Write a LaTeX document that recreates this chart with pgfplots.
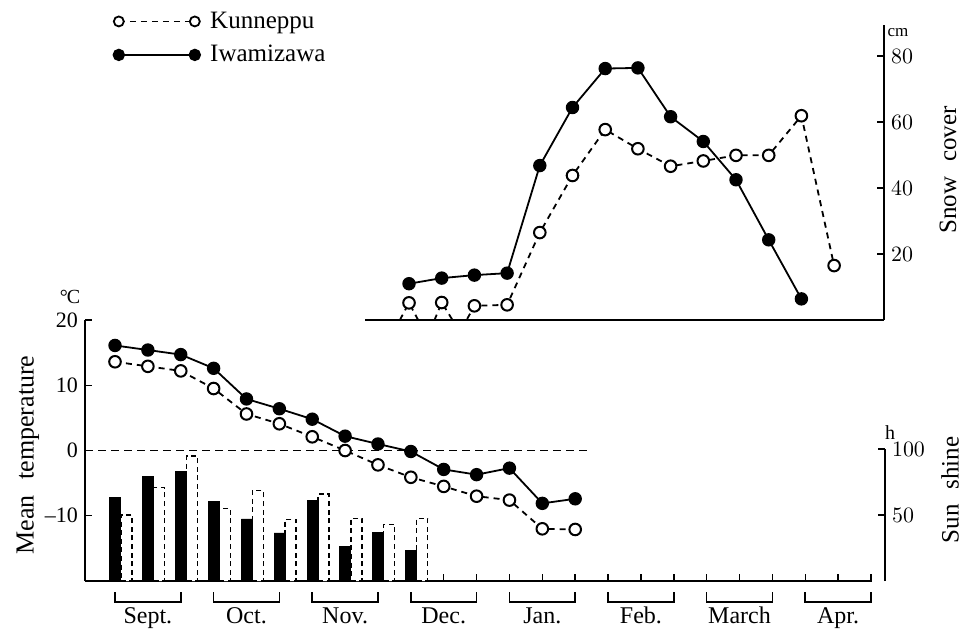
\documentclass[border=0pt]{standalone}
\usepackage{fontspec}
\setmainfont{Liberation Serif}
\usepackage{pgfplots}
\pgfplotsset{compat=1.18}

\begin{document}
\begin{tikzpicture}[font=\fontsize{12}{14}\selectfont]
\useasboundingbox (0,0) rectangle (484pt,-314pt);

% lower panel: mean temperature, x = dekad number (0 = 1st dekad of Sept.)
\begin{axis}[at={(42.5pt,-290.5pt)}, anchor=south west,
    scale only axis, width=393.5pt, height=130.5pt,
    xmin=-0.913, xmax=23.03, ymin=-20, ymax=20,
    axis x line=bottom, axis y line=left,
    axis line style={-, line width=1.1pt},
    xtick={0,...,23}, xticklabels={},
    ytick={-10,0,10,20}, yticklabels={--10,0,10,20},
    tick align=inside, major tick length=3.5pt,
    tick style={black, line width=0.7pt},
    tick label style={font=\fontsize{11}{11}\selectfont},
    clip=false]
    \draw[line width=0.9pt, dash pattern=on 4pt off 2.5pt] (axis cs:-0.913,0) -- (axis cs:14.35,0);
    % Iwamizawa
    \addplot[black, line width=0.9pt, mark=*, mark size=2.9pt] coordinates {
        (0,16.1) (1,15.4) (2,14.7) (3,12.6) (4,7.9) (5,6.4) (6,4.8) (7,2.2)
        (8,1.0) (9,-0.15) (10,-2.9) (11,-3.7) (12,-2.7) (13,-8.1) (14,-7.4)};
    % Kunneppu
    \addplot[black, line width=0.9pt, dash pattern=on 3pt off 2.5pt, mark=*, mark size=2.9pt,
        mark options={solid, fill=white, line width=1pt}] coordinates {
        (0,13.6) (1,12.9) (2,12.2) (3,9.5) (4,5.6) (5,4.1) (6,2.1) (7,0.0)
        (8,-2.2) (9,-4.1) (10,-5.5) (11,-7.0) (12,-7.6) (13,-12.0) (14,-12.1)};
    % month brackets
    \draw[line width=0.8pt] (axis cs:0,-21.7) |- (axis cs:2,-23.2) -- (axis cs:2,-21.7);
    \draw[line width=0.8pt] (axis cs:3,-21.7) |- (axis cs:5,-23.2) -- (axis cs:5,-21.7);
    \draw[line width=0.8pt] (axis cs:6,-21.7) |- (axis cs:8,-23.2) -- (axis cs:8,-21.7);
    \draw[line width=0.8pt] (axis cs:9,-21.7) |- (axis cs:11,-23.2) -- (axis cs:11,-21.7);
    \draw[line width=0.8pt] (axis cs:12,-21.7) |- (axis cs:14,-23.2) -- (axis cs:14,-21.7);
    \draw[line width=0.8pt] (axis cs:15,-21.7) |- (axis cs:17,-23.2) -- (axis cs:17,-21.7);
    \draw[line width=0.8pt] (axis cs:18,-21.7) |- (axis cs:20,-23.2) -- (axis cs:20,-21.7);
    \draw[line width=0.8pt] (axis cs:21,-21.7) |- (axis cs:23,-23.2) -- (axis cs:23,-21.7);
    \node[anchor=base] at (axis cs:1,-26.5) {Sept.};
    \node[anchor=base] at (axis cs:4,-26.5) {Oct.};
    \node[anchor=base] at (axis cs:7,-26.5) {Nov.};
    \node[anchor=base] at (axis cs:10,-26.5) {Dec.};
    \node[anchor=base] at (axis cs:13,-26.5) {Jan.};
    \node[anchor=base] at (axis cs:16,-26.5) {Feb.};
    \node[anchor=base] at (axis cs:19,-26.5) {March};
    \node[anchor=base] at (axis cs:22,-26.5) {Apr.};
\end{axis}

% sunshine hours, same x scale, right axis 0-100 h
\begin{axis}[at={(42.5pt,-290.5pt)}, anchor=south west,
    scale only axis, width=400pt, height=66pt,
    xmin=-0.913, xmax=23.43, ymin=0, ymax=100,
    axis x line=none, axis y line=right,
    axis line style={-, line width=1.1pt},
    ytick={50,100}, tick align=inside, major tick length=3.5pt,
    tick style={black, line width=0.7pt},
    tick label style={font=\fontsize{11}{11}\selectfont},
    clip=false]
    % Kunneppu
    \addplot[ybar, bar width=0.335, bar shift=0.345, draw=black, fill=white,
        line width=0.7pt, dash pattern=on 2.5pt off 1.8pt] coordinates {
        (0,50.0) (1,70.7) (2,94.7) (3,55.0) (4,68.4) (5,46.7) (6,65.9) (7,47.5) (8,43.0) (9,47.5)};
    % Iwamizawa
    \addplot[ybar, bar width=0.335, bar shift=0.01, draw=black, fill=black] coordinates {
        (0,63.4) (1,79.5) (2,83.3) (3,60.4) (4,47.0) (5,36.4) (6,60.7) (7,26.0) (8,36.6) (9,23.0)};
\end{axis}

% upper panel: snow cover
\begin{axis}[at={(182.5pt,-160pt)}, anchor=south west,
    scale only axis, width=259.5pt, height=147.5pt,
    xmin=7.654, xmax=23.526, ymin=0, ymax=89.4,
    axis x line=bottom, axis y line=right,
    axis line style={-, line width=1.1pt},
    xtick=\empty, ytick={20,40,60,80},
    tick align=inside, major tick length=3.5pt,
    tick style={black, line width=0.7pt},
    tick label style={font=\fontsize{11}{11}\selectfont},
    clip=false,
    legend style={at={(axis description cs:-0.4855,1.053)}, anchor=north west,
        draw=none, fill=none, inner sep=0pt, row sep=5pt,
        nodes={inner sep=1pt, font=\fontsize{12.5}{14}\selectfont},
        /tikz/every odd column/.append style={column sep=4pt}},
    legend cell align=left,
    legend image code/.code={\draw[#1] plot coordinates {(0pt,0pt) (38pt,0pt)};}]
    \addlegendimage{black, line width=0.8pt, dash pattern=on 3pt off 2.5pt, mark=*, mark size=2.5pt,
        mark options={solid, fill=white, line width=0.9pt}}
    \addlegendentry{Kunneppu}
    \addlegendimage{black, line width=0.8pt, mark=*, mark size=2.7pt}
    \addlegendentry{Iwamizawa}
    % Iwamizawa
    \addplot[forget plot, black, line width=0.9pt, mark=*, mark size=2.9pt] coordinates {
        (9,11.0) (10,12.7) (11,13.6) (12,14.2) (13,46.8) (14,64.4) (15,76.2)
        (16,76.4) (17,61.6) (18,54.1) (19,42.5) (20,24.3) (21,6.4)};
    % Kunneppu
    \addplot[forget plot, black, line width=0.9pt, dash pattern=on 3pt off 2.5pt, mark=*, mark size=2.9pt,
        mark options={solid, fill=white, line width=1pt},
        mark indices={2,5,8,9,10,11,12,13,14,15,16,17,18,19}] coordinates {
        (8.72,0) (9,5.2) (9.28,0) (9.78,0) (10,5.3) (10.33,0) (10.76,0)
        (11,4.3) (12,4.6) (13,26.5) (14,43.8) (15,57.7) (16,51.9) (17,46.6)
        (18,48.2) (19,49.9) (20,49.9) (21,61.9) (22,16.5)};
\end{axis}

\node[rotate=90, font=\fontsize{13}{14}\selectfont] at (14pt,-227.5pt) {Mean\hspace{0.6em}temperature};
\node[rotate=90, font=\fontsize{12.5}{14}\selectfont] at (474pt,-85pt) {Snow\hspace{0.6em}cover};
\node[rotate=90, font=\fontsize{12.5}{14}\selectfont] at (475pt,-245pt) {Sun\hspace{0.6em}shine};
\node[font=\fontsize{8.5}{8.5}\selectfont] at (449pt,-16.5pt) {cm};
\node[font=\fontsize{10}{10}\selectfont] at (445pt,-216.5pt) {h};
\node[font=\fontsize{10}{10}\selectfont] at (35pt,-148.5pt) {\textdegree\kern-0.5pt C};
\end{tikzpicture}
\end{document}
